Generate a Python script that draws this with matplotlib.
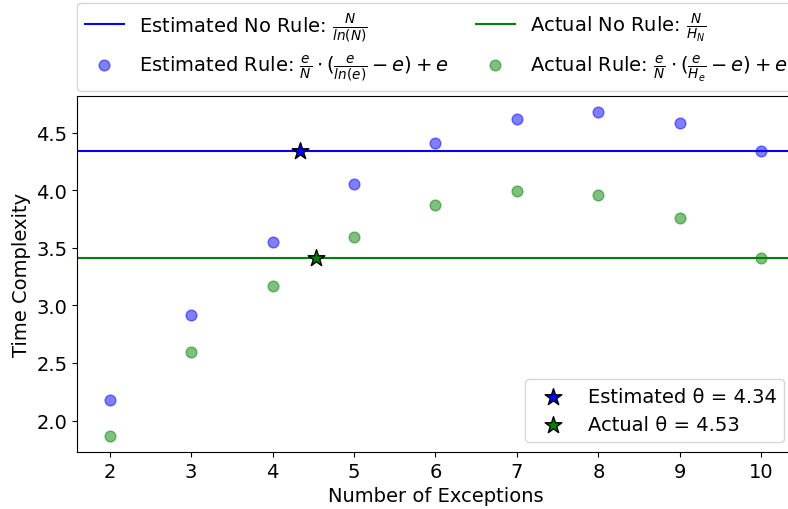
import numpy as np
import matplotlib.pyplot as plt

exceptions = [2, 3, 4, 5, 6, 7, 8, 9, 10]
estimated_rule = [2.177, 2.919, 3.554, 4.053, 4.409, 4.618, 4.678, 4.587, 4.343]
actual_rule = [1.867, 2.591, 3.168, 3.595, 3.869, 3.990, 3.955, 3.763, 3.414]
estimated_no_rule = 4.343
actual_no_rule = 3.414
estimated_theta = 4.34
actual_theta = 4.53

fig = plt.figure(figsize=(7.88, 5.10), dpi=100)
ax = fig.add_axes([77 / 788, 1 - 453 / 510, (794 - 77) / 788, (453 - 97) / 510])

h1 = ax.axhline(estimated_no_rule, color="blue", linewidth=1.5,
                label=r"Estimated No Rule: $\frac{N}{ln(N)}$")
h2 = ax.axhline(actual_no_rule, color="green", linewidth=1.5,
                label=r"Actual No Rule: $\frac{N}{H_N}$")
s1 = ax.scatter(exceptions, estimated_rule, color="blue", alpha=0.5, s=60,
                label=r"Estimated Rule: $\frac{e}{N} \cdot (\frac{e}{ln(e)} - e) + e$")
s2 = ax.scatter(exceptions, actual_rule, color="green", alpha=0.5, s=60,
                label=r"Actual Rule: $\frac{e}{N} \cdot (\frac{e}{H_e} - e) + e$")

# Punto de corte
t1 = ax.scatter([estimated_theta], [estimated_no_rule], marker="*", s=160,
                color="blue", edgecolors="black", zorder=4,
                label=f"Estimated θ = {estimated_theta:.2f}")
t2 = ax.scatter([actual_theta], [actual_no_rule], marker="*", s=160,
                color="green", edgecolors="black", zorder=4,
                label=f"Actual θ = {actual_theta:.2f}")

ax.set_xlim(1.6, 10.4)
ax.set_xticks(exceptions)
ax.tick_params(labelsize=14)
ax.set_xlabel("Number of Exceptions", fontsize=14)
ax.set_ylabel("Time Complexity", fontsize=14)

top = ax.legend(handles=[h1, s1, h2, s2], ncol=2, fontsize=14,
                loc="lower left", bbox_to_anchor=(0, 1.015), borderaxespad=0,
                columnspacing=1.4)
ax.add_artist(top)
ax.legend(handles=[t1, t2], loc="lower right", fontsize=14)

fig.savefig("out.png", dpi=100)
